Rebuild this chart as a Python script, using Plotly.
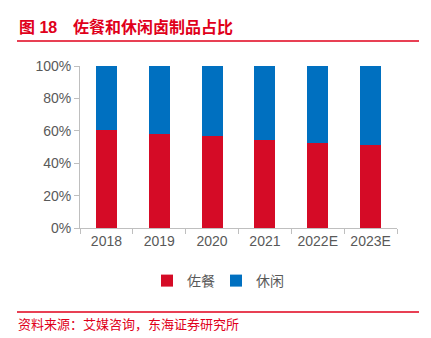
import plotly.graph_objects as go

years = ["2018", "2019", "2020", "2021", "2022E", "2023E"]
zuocan = [0.607, 0.582, 0.568, 0.541, 0.525, 0.512]
xiuxian = [round(1 - v, 3) for v in zuocan]

W, H = 431, 338
L, R, T, B = 80, 34, 66, 110
pw, ph = W - L - R, H - T - B

def px(x):
    return (x - L) / pw

def py(y):
    return (H - B - y) / ph

FONT = "Liberation Sans, Arial, Noto Sans CJK SC"
RED = "#D50B26"
BLUE = "#0070C0"
TRED = "#E0001B"
GRAY = "#595959"

fig = go.Figure()
fig.add_bar(x=years, y=zuocan, name="佐餐", marker=dict(color=RED, line=dict(width=0)))
fig.add_bar(x=years, y=xiuxian, name="休闲", marker=dict(color=BLUE, line=dict(width=0)))

fig.update_layout(
    width=W, height=H,
    margin=dict(l=L, r=R, t=T, b=B),
    barmode="stack", bargap=0.6,
    plot_bgcolor="white", paper_bgcolor="white",
    font=dict(family=FONT, size=13, color=GRAY),
    showlegend=True,
    legend=dict(orientation="h", x=px(216), xanchor="center", y=py(281), yanchor="middle",
                font=dict(size=14, color=GRAY), itemwidth=30, tracegroupgap=0,
                traceorder="normal", entrywidth=24, entrywidthmode="pixels"),
    xaxis=dict(showline=True, linecolor="#BFBFBF", linewidth=1, ticks="outside",
               tickson="boundaries", ticklen=5, tickcolor="#BFBFBF",
               tickfont=dict(size=14, color=GRAY), showgrid=False),
    yaxis=dict(range=[0, 1], tickvals=[0, 0.2, 0.4, 0.6, 0.8, 1.0], tickformat=".0%",
               showline=True, linecolor="#BFBFBF", linewidth=1, ticks="outside",
               ticklen=5, tickcolor="#BFBFBF", showgrid=False, zeroline=False,
               tickfont=dict(size=14, color=GRAY)),
)

fig.add_annotation(text="<b>图 18</b>", xref="paper", yref="paper", x=px(17), y=py(27),
                   xanchor="left", yanchor="middle", showarrow=False,
                   font=dict(size=16, color=TRED, family=FONT))
fig.add_annotation(text="<b>佐餐和休闲卤制品占比</b>", xref="paper", yref="paper", x=px(71), y=py(27),
                   xanchor="left", yanchor="middle", showarrow=False,
                   font=dict(size=16, color=TRED, family=FONT))
fig.add_annotation(text="资料来源：艾媒咨询，东海证券研究所", xref="paper", yref="paper", x=px(16), y=py(324),
                   xanchor="left", yanchor="middle", showarrow=False,
                   font=dict(size=13, color=TRED, family=FONT))
fig.add_shape(type="line", xref="paper", yref="paper", x0=px(17), x1=px(419), y0=py(41), y1=py(41),
              line=dict(color=TRED, width=1.5))
fig.add_shape(type="line", xref="paper", yref="paper", x0=px(17), x1=px(419), y0=py(312), y1=py(312),
              line=dict(color=TRED, width=1.5))

fig.write_html("out.html")
